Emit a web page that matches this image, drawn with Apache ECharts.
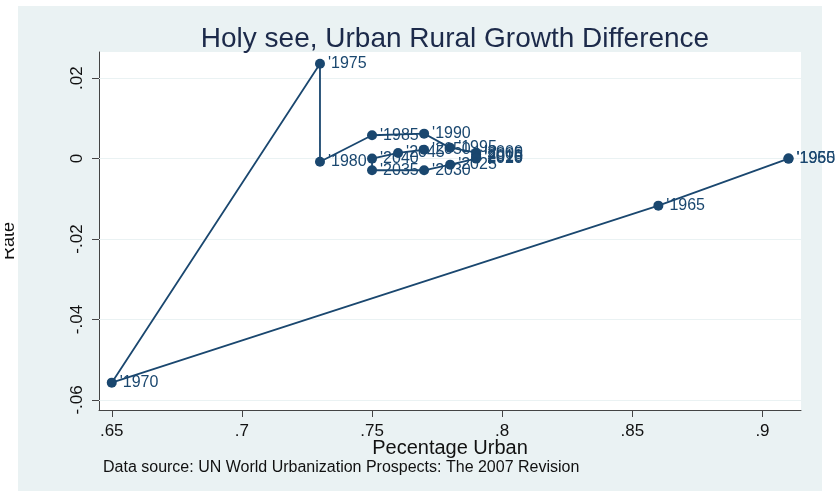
<!DOCTYPE html>
<html>
<head>
<meta charset="utf-8">
<title>Holy see, Urban Rural Growth Difference</title>
<script src="https://cdn.jsdelivr.net/npm/echarts@6/dist/echarts.min.js"></script>
<style>
  html, body { margin: 0; padding: 0; background: #ffffff; }
  #chart { width: 837px; height: 495px; }
</style>
</head>
<body>
<div id="chart"></div>
<script>
// Five-year observations, 1955 to 2050
const years = [1955, 1960, 1965, 1970, 1975, 1980, 1985, 1990, 1995, 2000,
               2005, 2010, 2015, 2020, 2025, 2030, 2035, 2040, 2045, 2050];
// Share of population living in urban areas
const urbanShare = [0.91, 0.91, 0.86, 0.65, 0.73, 0.73, 0.75, 0.77, 0.78, 0.79,
                    0.79, 0.79, 0.79, 0.79, 0.78, 0.77, 0.75, 0.75, 0.76, 0.77];
// Urban minus rural growth rate
const growthDiff = [0.0, 0.0, -0.0117, -0.0557, 0.0236, -0.0008, 0.0058, 0.0062, 0.0027, 0.0015,
                    0.0010, 0.0005, 0.0002, 0.0000, -0.0015, -0.0029, -0.0029, 0.0000, 0.0014, 0.0022];

const xTicks = [0.65, 0.7, 0.75, 0.8, 0.85, 0.9];
const yTicks = [-0.06, -0.04, -0.02, 0, 0.02];

const navy = '#1a476f';
const fontFamily = '"Liberation Sans", Arial, sans-serif';

// Stata-style numbers: drop the leading zero (".65", "-.02")
function shortNum(v) {
  const s = String(+v.toFixed(4));
  return s.replace(/^(-?)0\./, '$1.');
}

const points = years.map((yr, i) => ({ value: [urbanShare[i], growthDiff[i]], year: yr }));

const chart = echarts.init(document.getElementById('chart'), null, { renderer: 'canvas' });

chart.setOption({
  animation: false,
  backgroundColor: '#ffffff',
  textStyle: { fontFamily: fontFamily },
  title: {
    text: 'Holy see, Urban Rural Growth Difference',
    left: 450,
    top: 20,
    textAlign: 'center',
    textStyle: { fontFamily: fontFamily, fontSize: 28, fontWeight: 'normal', color: '#1c2a4a' }
  },
  graphic: [
    {
      type: 'rect', z: -10, silent: true,
      shape: { x: 18, y: 6, width: 804, height: 485 },
      style: { fill: '#eaf2f3' }
    },
    {
      type: 'text', silent: true, z: 10,
      x: 9, y: 241, rotation: Math.PI / 2,
      style: { text: 'Rate', fontFamily: fontFamily, fontSize: 18, fill: '#111111',
               textAlign: 'center', textVerticalAlign: 'middle' }
    },
    {
      // page margin left of the panel trims the axis title
      type: 'rect', z: 11, silent: true,
      shape: { x: 0, y: 200, width: 5, height: 90 },
      style: { fill: '#ffffff' }
    },
    {
      type: 'text', silent: true,
      x: 103, y: 468,
      style: { text: 'Data source: UN World Urbanization Prospects: The 2007 Revision',
               fontFamily: fontFamily, fontSize: 16, fill: '#111111', textVerticalAlign: 'middle' }
    }
  ],
  grid: {
    left: 99, right: 36, top: 52, bottom: 85,
    show: true, backgroundColor: '#ffffff', borderWidth: 0
  },
  xAxis: {
    type: 'value',
    min: 0.6451, max: 0.9148,
    name: 'Pecentage Urban',
    nameLocation: 'middle',
    nameGap: 28,
    nameMoveOverlap: false,
    nameTextStyle: { fontFamily: fontFamily, fontSize: 20, color: '#111111' },
    axisLine: { show: true, onZero: false, lineStyle: { color: '#444444', width: 1 } },
    axisTick: { show: true, length: 7, customValues: xTicks, lineStyle: { color: '#444444' } },
    axisLabel: { customValues: xTicks, margin: 13, fontSize: 17, color: '#111111',
                 formatter: v => shortNum(v) },
    splitLine: { show: false }
  },
  yAxis: {
    type: 'value',
    min: -0.0625, max: 0.0265,
    axisLine: { show: true, onZero: false, lineStyle: { color: '#444444', width: 1 } },
    axisTick: { show: true, length: 7, customValues: yTicks, lineStyle: { color: '#444444' } },
    axisLabel: { customValues: yTicks, rotate: 90, margin: 13, fontSize: 17, color: '#111111',
                 formatter: v => shortNum(v) },
    splitLine: { show: false }
  },
  series: [
    {
      // horizontal reference lines at the y ticks
      type: 'line',
      data: [],
      silent: true,
      z: 0,
      markLine: {
        silent: true, symbol: 'none', label: { show: false },
        lineStyle: { color: '#eaf2f3', width: 1, type: 'solid' },
        data: yTicks.map(v => ({ yAxis: v }))
      }
    },
    {
      type: 'line',
      data: points,
      symbol: 'circle',
      symbolSize: 10,
      itemStyle: { color: navy },
      lineStyle: { color: navy, width: 1.8 },
      label: {
        show: true,
        position: 'right',
        distance: 3,
        fontSize: 16,
        fontFamily: fontFamily,
        color: navy,
        formatter: p => "'" + p.data.year
      },
      z: 5
    }
  ]
});
</script>
</body>
</html>
